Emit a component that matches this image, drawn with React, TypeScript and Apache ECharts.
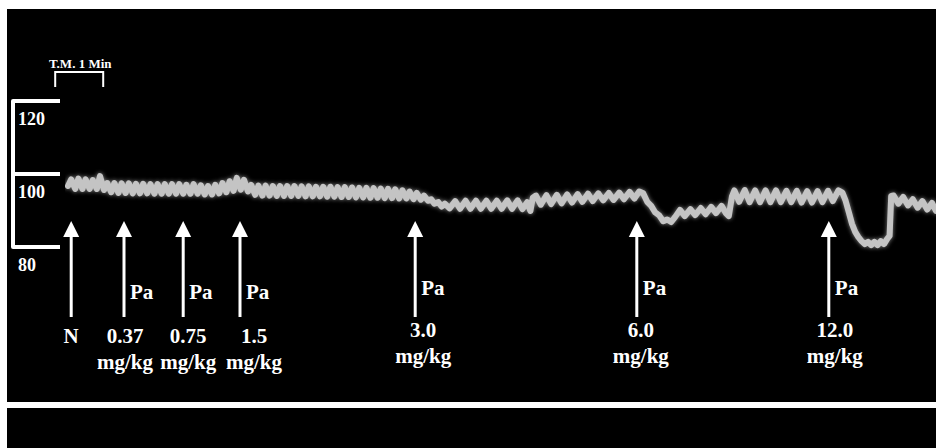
import React, { useEffect, useRef } from "react";
import * as echarts from "echarts";

// ---- Data (time in seconds from start of trace, pressure in mmHg) ----
const trace: [number, number][] = [
  [0, 96.6], [4, 98.4], [9, 95.8], [13, 98.6], [18, 95.8], [22, 98.4], [27, 95.8], [31, 98.2], [36, 95.8], [40, 99.3], [45, 95.5],
  [49, 97.4], [54, 94.9], [58, 97.4], [63, 94.7], [67, 97.3], [72, 94.7], [76, 97.3], [81, 94.6], [85, 97.2], [90, 94.6], [94, 97.2], [99, 94.6], [103, 97.1], [108, 94.5], [112, 97.1], [117, 94.5],
  [121, 97.1], [126, 94.5], [130, 97.1], [135, 94.5], [139, 97.1], [144, 94.5], [148, 96.9], [153, 94.5], [157, 97.1], [162, 94.5], [166, 96.8], [171, 94.3], [175, 96.6], [180, 94.3], [184, 96.9], [189, 94.6], [193, 97.4], [198, 94.9],
  [202, 97.9], [207, 95.3], [211, 98.8], [216, 95.6], [220, 98.3], [225, 95.1],
  [229, 96.9], [234, 94.2], [238, 96.7], [243, 94.0], [247, 96.7], [252, 94.0], [256, 96.6], [261, 93.9], [265, 96.6], [270, 93.9], [274, 96.6], [279, 93.9], [283, 96.6], [288, 93.9], [292, 96.5], [297, 93.8], [301, 96.5], [306, 93.8], [310, 96.4], [315, 93.8], [319, 96.4], [324, 93.7],
  [328, 96.4], [333, 93.7], [337, 96.3], [342, 93.6], [346, 96.3], [351, 93.6], [355, 96.2], [360, 93.5], [364, 96.1], [369, 93.5], [373, 96.1], [378, 93.4], [382, 96.0], [387, 93.4], [391, 95.9], [396, 93.3], [400, 95.8], [405, 93.3], [409, 95.7], [414, 93.2],
  [418, 95.4], [423, 93.2], [427, 95.1], [432, 93.0], [436, 94.7], [441, 92.9], [445, 94.0],
  [450, 92.6], [454, 93.0], [458, 91.8], [463, 92.2], [467, 91.0], [471, 91.8],
  [477, 90.5], [484, 92.5], [490, 90.4], [497, 92.6], [503, 90.4], [510, 92.6], [516, 90.4], [523, 92.6], [529, 90.4], [536, 92.6], [542, 90.4], [549, 92.7], [555, 90.4], [562, 92.7], [568, 90.3], [574, 92.2], [578, 89.8],
  [581, 93.4], [585, 94.0], [591, 91.5], [598, 94.1], [604, 91.7], [611, 94.2], [617, 91.9], [624, 94.3], [630, 92.1], [637, 94.4], [643, 92.3], [650, 94.5], [656, 92.5], [663, 94.6], [669, 92.7], [676, 94.7], [682, 92.8], [689, 94.8], [695, 93.0], [702, 95.0], [708, 93.2], [714, 95.1],
  [719, 94.6], [724, 92.3], [729, 91.2], [734, 89.4], [739, 88.6], [744, 87.0], [749, 87.5], [754, 86.8],
  [759, 88.2], [765, 90.1], [771, 88.4], [778, 90.3], [784, 88.7], [791, 90.6], [797, 88.9], [804, 90.9], [810, 89.2], [817, 91.2], [822, 89.3], [826, 88.4],
  [830, 93.8], [833, 95.4], [839, 92.3], [846, 95.5], [852, 92.2], [859, 95.4], [865, 92.2], [872, 95.4], [878, 92.2], [885, 95.4], [891, 92.2], [898, 95.3], [904, 92.2], [911, 95.3], [917, 92.1], [924, 95.2], [930, 92.1], [937, 95.2], [943, 92.2], [950, 95.3], [956, 92.5], [963, 95.4], [968, 94.8],
  [972, 92.6], [976, 89.5], [980, 86.3], [984, 84.1], [988, 82.7], [992, 81.6],
  [996, 80.8], [1000, 81.4], [1004, 80.5], [1008, 81.4], [1012, 80.5], [1016, 81.6], [1020, 80.8], [1024, 82.2], [1027, 83.0],
  [1029, 93.9], [1032, 94.0], [1038, 91.8], [1044, 93.6], [1050, 91.3], [1056, 93.0], [1062, 90.7], [1068, 92.5], [1074, 90.2], [1080, 92.0], [1085, 89.8],
];

// Injection markers
const arrowTimes = [4, 70, 144, 215, 434, 711, 951];
const arrowDrug = ["", "Pa", "Pa", "Pa", "Pa", "Pa", "Pa"];
const arrowDose = ["N", "0.37", "0.75", "1.5", "3.0", "6.0", "12.0"];
const arrowUnit = ["", "mg/kg", "mg/kg", "mg/kg", "mg/kg", "mg/kg", "mg/kg"];

// Pressure scale bar ticks (mmHg)
const scaleMin = 80;
const scaleMax = 120;
const scaleStep = 20;

// Time mark (seconds)
const timeMarkStart = -16;
const timeMarkLength = 60;
const timeMarkLabel = "T.M. 1 Min";

// ---- Layout (pixels) ----
const labelShiftX = [0, 1, 5, 14, 8, 4, 6];
const labelShiftY = [6, 6, 6, 6, 0, 0, 0];
const arrowTipLevel = 87.07;
const timeMarkLevel = 127.6;

const FONT = "'Liberation Serif', 'Times New Roman', serif";

export default function App() {
  const ref = useRef<HTMLDivElement>(null);

  useEffect(() => {
    if (!ref.current) return;
    const chart = echarts.init(ref.current, undefined, { renderer: "svg" });

    const textStyle = (text: string, size: number, align: string) => ({
      text,
      fill: "#ffffff",
      fontFamily: FONT,
      fontWeight: "bold",
      fontSize: size,
      textAlign: align,
      textVerticalAlign: "middle",
    });

    chart.setOption({
      animation: false,
      backgroundColor: "#000000",
      graphic: [
        { type: "rect", shape: { x: 0, y: 0, width: 936, height: 9 }, style: { fill: "#ffffff" }, silent: true },
        { type: "rect", shape: { x: 0, y: 0, width: 7, height: 448 }, style: { fill: "#ffffff" }, silent: true },
        { type: "rect", shape: { x: 0, y: 402, width: 936, height: 6 }, style: { fill: "#ffffff" }, silent: true },
      ],
      grid: [
        { left: 68, right: 0, top: 26.5, bottom: 127.5 },
        { left: 13, width: 47, top: 101, height: 146 },
      ],
      xAxis: [
        { type: "value", gridIndex: 0, min: 0, max: 1085, show: false },
        { type: "value", gridIndex: 1, min: 0, max: 1, show: false },
      ],
      yAxis: [
        { type: "value", gridIndex: 0, min: 60, max: 140, show: false },
        {
          type: "value",
          gridIndex: 1,
          min: scaleMin,
          max: scaleMax,
          interval: scaleStep,
          position: "left",
          axisLine: { show: true, lineStyle: { color: "#ffffff", width: 4 } },
          axisTick: { show: true, inside: true, length: 47, lineStyle: { color: "#ffffff", width: 4 } },
          splitLine: { show: false },
          axisLabel: {
            show: true,
            inside: true,
            margin: 5,
            color: "#ffffff",
            fontFamily: FONT,
            fontWeight: "bold",
            fontSize: 18,
            verticalAlign: "top",
            padding: [9, 0, 0, 0],
          },
        },
      ],
      series: [
        {
          type: "line",
          xAxisIndex: 0,
          yAxisIndex: 0,
          data: trace,
          showSymbol: false,
          silent: true,
          lineStyle: {
            color: "#c4c4c4",
            width: 6,
            join: "round",
            cap: "round",
            shadowBlur: 4,
            shadowColor: "rgba(150,150,150,0.9)",
          },
          z: 3,
        },
        {
          type: "custom",
          xAxisIndex: 0,
          yAxisIndex: 0,
          clip: false,
          silent: true,
          data: arrowTimes.map((t, i) => [t, i]),
          renderItem: (params: any, api: any) => {
            const i = params.dataIndex;
            const p = api.coord([api.value(0), arrowTipLevel]);
            const x = p[0];
            const y = p[1];
            const sx = x + labelShiftX[i];
            const dy = labelShiftY[i];
            const children: any[] = [
              { type: "polygon", shape: { points: [[x, y], [x - 8, y + 16], [x + 8, y + 16]] }, style: { fill: "#ffffff" } },
              { type: "rect", shape: { x: x - 1.5, y: y + 14, width: 3, height: 82 }, style: { fill: "#ffffff" } },
              { type: "text", x: sx, y: y + 109 + dy, style: textStyle(arrowDose[i], 21, "center") },
            ];
            if (arrowDrug[i]) {
              children.push({ type: "text", x: x + 6, y: y + 67 + dy * 0.7, style: textStyle(arrowDrug[i], 21, "left") });
            }
            if (arrowUnit[i]) {
              children.push({ type: "text", x: sx, y: y + 135 + dy, style: textStyle(arrowUnit[i], 21, "center") });
            }
            return { type: "group", children };
          },
          z: 4,
        },
        {
          type: "custom",
          xAxisIndex: 0,
          yAxisIndex: 0,
          clip: false,
          silent: true,
          data: [[timeMarkStart, timeMarkLength]],
          renderItem: (params: any, api: any) => {
            const a = api.coord([api.value(0), timeMarkLevel]);
            const b = api.coord([api.value(0) + api.value(1), timeMarkLevel]);
            return {
              type: "group",
              children: [
                {
                  type: "polyline",
                  shape: { points: [[a[0], a[1] + 15], [a[0], a[1]], [b[0], b[1]], [b[0], b[1] + 15]] },
                  style: { stroke: "#ffffff", lineWidth: 2, fill: null },
                },
                { type: "text", x: (a[0] + b[0]) / 2 + 1, y: a[1] - 9, style: textStyle(timeMarkLabel, 13, "center") },
              ],
            };
          },
          z: 4,
        },
      ],
    });

    return () => chart.dispose();
  }, []);

  return (
    <div
      ref={ref}
      style={{ position: "fixed", left: 0, top: 0, width: 936, height: 448 }}
    />
  );
}
